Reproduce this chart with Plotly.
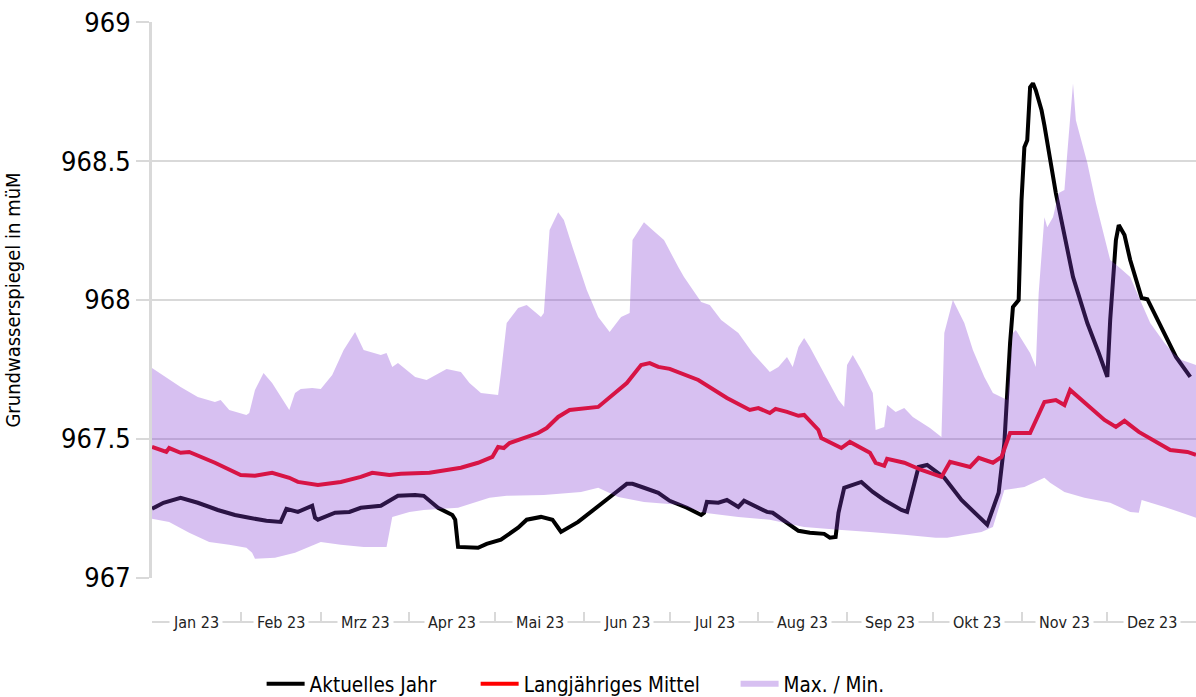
import pandas as pd
import plotly.graph_objects as go

START = "2023-01-01"

# Aktuelles Jahr (Tag seit 1.1.2023, Pegel in müM)
ist_tag = [0, 4, 10, 16, 23, 29, 34, 40, 45, 47, 51, 55, 56, 57, 58, 64, 69, 73, 80, 86, 92, 95, 100, 105,
           106, 107, 114, 117, 122, 128, 131, 136, 140, 142, 143, 149, 156, 161, 166, 168, 172, 177, 181,
           187, 192, 193, 194, 198, 201, 205, 207, 212, 215, 217, 222, 226, 230, 235, 237, 239, 240, 242,
           248, 252, 256, 262, 264, 266, 268, 271, 275, 277, 283, 290, 292, 296, 298, 300, 301, 303, 304,
           305, 306, 307, 308, 309, 311, 312, 316, 322, 327, 331, 334, 335, 337, 338, 340, 342, 346, 348,
           352, 358, 363]
ist_pegel = [967.248, 967.270, 967.288, 967.270, 967.244, 967.226, 967.216, 967.205, 967.201, 967.248,
             967.237, 967.255, 967.259, 967.216, 967.209, 967.234, 967.237, 967.252, 967.259, 967.295,
             967.298, 967.295, 967.252, 967.226, 967.209, 967.111, 967.108, 967.122, 967.137, 967.180,
             967.209, 967.219, 967.209, 967.180, 967.165, 967.201, 967.255, 967.298, 967.338, 967.338,
             967.324, 967.306, 967.277, 967.252, 967.226, 967.234, 967.273, 967.270, 967.280, 967.255,
             967.277, 967.252, 967.237, 967.234, 967.198, 967.169, 967.162, 967.158, 967.144, 967.147,
             967.234, 967.324, 967.345, 967.309, 967.280, 967.244, 967.237, 967.316, 967.399, 967.406,
             967.378, 967.360, 967.280, 967.209, 967.191, 967.306, 967.485, 967.845, 967.975, 968.000,
             968.360, 968.550, 968.575, 968.766, 968.780, 968.755, 968.683, 968.629, 968.385, 968.083,
             967.917, 967.809, 967.723, 967.928, 968.216, 968.270, 968.234, 968.144, 968.007, 968.003,
             967.917, 967.795, 967.723]

# Langjähriges Mittel
mittel_tag = [0, 5, 6, 10, 13, 22, 31, 36, 42, 48, 51, 58, 66, 73, 77, 83, 87, 97, 108, 114, 119, 121, 123,
              125, 135, 138, 142, 146, 156, 160, 166, 171, 174, 177, 181, 191, 201, 209, 212, 216, 218, 222,
              226, 228, 233, 234, 241, 244, 251, 253, 256, 257, 263, 269, 276, 279, 286, 289, 294, 297, 300,
              307, 312, 316, 319, 321, 328, 333, 337, 340, 345, 351, 356, 362, 365]
mittel_pegel = [967.471, 967.453, 967.467, 967.450, 967.453, 967.414, 967.370, 967.367, 967.378, 967.360,
                967.345, 967.334, 967.345, 967.363, 967.378, 967.370, 967.374, 967.378, 967.396, 967.414,
                967.435, 967.471, 967.467, 967.485, 967.521, 967.539, 967.579, 967.604, 967.615, 967.651,
                967.701, 967.766, 967.773, 967.759, 967.752, 967.712, 967.647, 967.604, 967.611, 967.593,
                967.608, 967.597, 967.583, 967.586, 967.532, 967.503, 967.467, 967.489, 967.450, 967.414,
                967.403, 967.428, 967.414, 967.388, 967.363, 967.417, 967.399, 967.432, 967.414, 967.435,
                967.521, 967.521, 967.633, 967.640, 967.622, 967.676, 967.615, 967.568, 967.543, 967.565,
                967.525, 967.489, 967.460, 967.453, 967.442]

# Max. / Min.
max_tag = [0, 10, 16, 22, 24, 27, 33, 34, 36, 39, 42, 48, 50, 52, 56, 59, 63, 67, 71, 74, 80, 82, 84, 86, 92,
           96, 103, 108, 111, 115, 121, 122, 124, 128, 131, 136, 137, 139, 142, 144, 147, 152, 156, 160, 164,
           167, 168, 172, 175, 179, 184, 186, 192, 195, 199, 205, 210, 216, 219, 222, 224, 226, 228, 230, 240,
           242, 243, 245, 248, 252, 253, 256, 257, 260, 263, 266, 272, 276, 277, 280, 284, 287, 291, 294, 299,
           301, 302, 307, 309, 310, 312, 313, 315, 317, 319, 320, 322, 323, 327, 330, 335, 338, 342, 345, 349,
           354, 357, 360, 365]
max_pegel = [967.755, 967.687, 967.651, 967.633, 967.640, 967.604, 967.586, 967.593, 967.676, 967.737,
             967.701, 967.604, 967.665, 967.680, 967.683, 967.680, 967.730, 967.820, 967.885, 967.820,
             967.802, 967.809, 967.759, 967.773, 967.723, 967.712, 967.752, 967.741, 967.701, 967.665,
             967.658, 967.737, 967.917, 967.971, 967.982, 967.939, 967.953, 968.252, 968.316, 968.288,
             968.191, 968.036, 967.939, 967.885, 967.939, 967.953, 968.216, 968.280, 968.252, 968.216,
             968.119, 968.083, 967.993, 967.982, 967.928, 967.881, 967.809, 967.741, 967.759, 967.795,
             967.759, 967.831, 967.863, 967.831, 967.640, 967.615, 967.766, 967.802, 967.748, 967.665,
             967.532, 967.543, 967.622, 967.597, 967.611, 967.579, 967.539, 967.507, 967.881, 968.000,
             967.917, 967.820, 967.723, 967.665, 967.640, 967.881, 967.892, 967.809, 967.759, 968.025,
             968.298, 968.262, 968.298, 968.385, 968.396, 968.529, 968.780, 968.647, 968.493, 968.349,
             968.144, 968.119, 968.083, 968.011, 967.917, 967.845, 967.809, 967.784, 967.766]
min_tag = [0, 6, 13, 20, 27, 33, 35, 36, 43, 50, 59, 66, 74, 82, 84, 90, 95, 107, 118, 124, 137, 150, 156, 163,
           172, 185, 193, 205, 216, 228, 240, 251, 263, 274, 278, 290, 294, 298, 305, 312, 314, 319, 326, 335,
           342, 345, 346, 354, 360, 365]
min_pegel = [967.212, 967.201, 967.162, 967.129, 967.119, 967.108, 967.090, 967.068, 967.072, 967.090,
             967.129, 967.119, 967.111, 967.111, 967.219, 967.237, 967.244, 967.252, 967.288, 967.295,
             967.298, 967.309, 967.324, 967.291, 967.273, 967.262, 967.234, 967.219, 967.209, 967.183,
             967.173, 967.165, 967.155, 967.144, 967.144, 967.165, 967.183, 967.316, 967.327, 967.360,
             967.342, 967.309, 967.288, 967.270, 967.237, 967.234, 967.280, 967.255, 967.234, 967.216]

monate = ["Jan 23", "Feb 23", "Mrz 23", "Apr 23", "Mai 23", "Jun 23", "Jul 23", "Aug 23",
          "Sep 23", "Okt 23", "Nov 23", "Dez 23"]


def to_dates(tage):
    return list(pd.Timestamp(START) + pd.to_timedelta(tage, unit="D"))


FONT = "DejaVu Sans Condensed, DejaVu Sans, sans-serif"
GRID = "#d9d9d9"

fig = go.Figure()
fig.add_trace(go.Scatter(x=to_dates(ist_tag), y=ist_pegel, mode="lines", name="Aktuelles Jahr",
                         line=dict(color="#000000", width=4), hoverinfo="skip", legend="legend"))
fig.add_trace(go.Scatter(x=to_dates(mittel_tag), y=mittel_pegel, mode="lines", name="Langjähriges Mittel",
                         line=dict(color="#ff0000", width=4), hoverinfo="skip", legend="legend2"))
band_x = to_dates(max_tag) + to_dates(min_tag)[::-1]
band_y = max_pegel + min_pegel[::-1]
fig.add_trace(go.Scatter(x=band_x, y=band_y, mode="none", fill="toself", name="Max. / Min.",
                         fillcolor="rgba(140,70,220,0.25)",
                         fillpattern=dict(shape="|", size=2, solidity=0.5,
                                          fgcolor="rgba(120,40,200,0.40)",
                                          bgcolor="rgba(140,70,220,0.25)"),
                         hoverinfo="skip", legend="legend3"))

month_starts = pd.date_range(START, periods=13, freq="MS")
month_mid = [month_starts[i] + (month_starts[i + 1] - month_starts[i]) / 2 for i in range(12)]

annotations = [dict(x=m, y=0, xref="x", yref="paper", text=t, showarrow=False, yanchor="middle",
                    xanchor="center", bgcolor="white", borderpad=3,
                    font=dict(family=FONT, size=16, color="#222222"))
               for m, t in zip(month_mid, monate)]

legend_style = dict(orientation="h", xanchor="left", yref="container", y=0.0187, yanchor="middle",
                    font=dict(family=FONT, size=20.5, color="#000000"), bgcolor="rgba(0,0,0,0)",
                    itemwidth=38)

fig.update_layout(
    width=1196, height=697,
    margin=dict(l=152, r=0, t=22, b=75),
    paper_bgcolor="white", plot_bgcolor="white",
    font=dict(family=FONT, color="#000000"),
    showlegend=True,
    legend=dict(x=0.105, **legend_style),
    legend2=dict(x=0.310, **legend_style),
    legend3=dict(x=0.559, **legend_style),
    annotations=annotations,
    xaxis=dict(type="date", range=[month_starts[0], month_starts[-1]], anchor="free", position=0,
               showline=True, linecolor=GRID, linewidth=2, ticks="inside", ticklen=9,
               tickcolor=GRID, tickwidth=2, tickmode="array", tickvals=list(month_starts),
               showticklabels=False, showgrid=False, zeroline=False),
    yaxis=dict(domain=[0.0733, 1], range=[966.999, 969.001], tickmode="array",
               tickvals=[967, 967.5, 968, 968.5, 969], ticktext=["967", "967.5", "968", "968.5", "969"],
               ticklabeloverflow="allow",
               showgrid=True, gridcolor=GRID, gridwidth=2, zeroline=False,
               showline=True, linecolor=GRID, linewidth=3, ticks="outside", ticklen=13,
               tickcolor=GRID, tickwidth=2, tickfont=dict(family=FONT, size=27, color="#000000"),
               title=dict(text="Grundwasserspiegel in müM", standoff=36,
                          font=dict(family=FONT, size=20, color="#000000"))),
)

post = (
    "document.documentElement.style.margin='0px';"
    "document.body.style.margin='0px';"
    "document.body.style.overflow='hidden';"
    "var gd=document.querySelector('.plotly-graph-div');"
    "gd.style.position='fixed';gd.style.left='0px';gd.style.top='0px';"
)

fig.write_html("out.html", config={"displayModeBar": False}, post_script=post)
